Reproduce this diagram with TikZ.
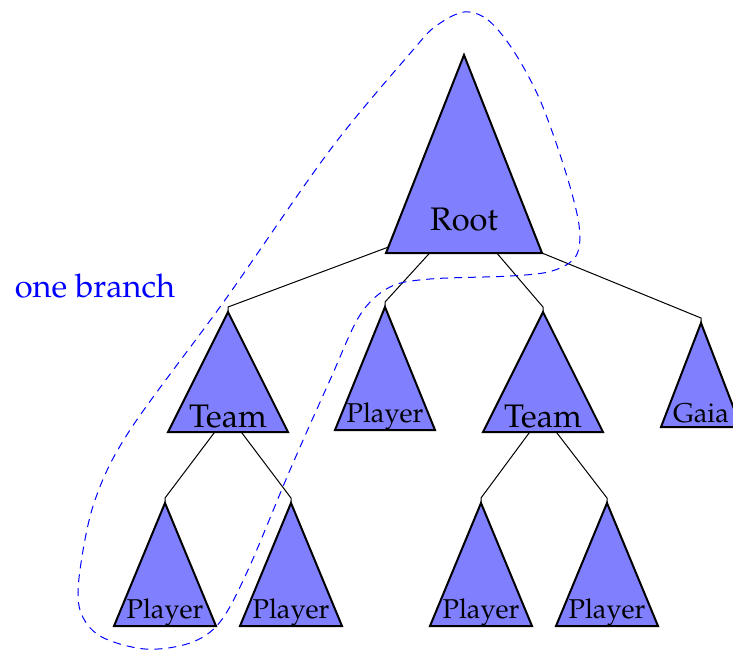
\documentclass[tikz,border=0pt]{standalone}
\usepackage[T1]{fontenc}
\usepackage{mathpazo}
\usetikzlibrary{calc}

% triangle: name, apex x, apex y, half width, height
\newcommand\trishape[5]{%
  \coordinate (#1-a) at (#2,#3);
  \coordinate (#1-l) at ({#2-#4},{#3+#5});
  \coordinate (#1-r) at ({#2+#4},{#3+#5});
  \draw[tri] (#1-a) -- (#1-l) -- (#1-r) -- cycle;
}

\begin{document}
\begin{tikzpicture}[x=0.5pt,y=-0.5pt,
  tri/.style={draw=black,fill=blue!50,line width=1pt,line join=miter},
  link/.style={draw=black,line width=0.5pt},
  big/.style={font=\fontsize{16.3}{18}\selectfont,inner sep=0pt,anchor=base},
  small/.style={font=\fontsize{13.6}{15}\selectfont,inner sep=0pt,anchor=base},
  branch/.style={draw=blue,line width=0.5pt,dash pattern=on 4pt off 3pt}]
\useasboundingbox (0,0) rectangle (733,650);

% triangles
\trishape{root}{464}{55}{78}{198}
\trishape{teamA}{228}{312}{60}{120}
\trishape{plM}{385}{307}{50}{123}
\trishape{teamB}{543}{312}{60}{120}
\trishape{gaia}{701}{323}{40}{104}
\trishape{plA}{165}{503}{51}{123}
\trishape{plB}{291}{503}{51}{123}
\trishape{plC}{481}{503}{51}{123}
\trishape{plD}{607}{503}{51}{123}

% labels
\node[big]   (rootT)  at (464,230) {Root};
\node[big]   (teamAT) at (228,427) {Team};
\node[small] (plMT)   at (385,422) {Player};
\node[big]   (teamBT) at (543,427) {Team};
\node[small] (gaiaT)  at (701,422) {Gaia};
\node[small] (plAT)   at (165,618) {Player};
\node[small] (plBT)   at (291,618) {Player};
\node[small] (plCT)   at (481,618) {Player};
\node[small] (plDT)   at (607,618) {Player};

% tree edges
\draw[link] ($(root-l)!0.03!(root-a)$) -- ([yshift=2.5pt]teamA-a) -- (teamA-a);
\draw[link] ($(root-l)!0.28!(root-r)$) -- ([yshift=2.5pt]plM-a) -- (plM-a);
\draw[link] ($(root-l)!0.71!(root-r)$) -- ([yshift=2.5pt]teamB-a) -- (teamB-a);
\draw[link] (root-r) -- ([yshift=2.5pt]gaia-a) -- (gaia-a);
\draw[link] ($(teamA-l)!0.39!(teamA-r)$) -- ([yshift=2.5pt]plA-a) -- (plA-a);
\draw[link] ($(teamA-l)!0.61!(teamA-r)$) -- ([yshift=2.5pt]plB-a) -- (plB-a);
\draw[link] ($(teamB-l)!0.39!(teamB-r)$) -- ([yshift=2.5pt]plC-a) -- (plC-a);
\draw[link] ($(teamB-l)!0.61!(teamB-r)$) -- ([yshift=2.5pt]plD-a) -- (plD-a);

% outline of one branch
\draw[branch] plot[smooth cycle,tension=0.55] coordinates {
  (464,12) (488,20) (513,50) (540,100) (565,170) (579,225) (576,256)
  (552,271) (510,276) (430,279) (390,287) (360,315) (330,380) (290,470)
  (248,570) (220,622) (190,643) (145,649) (100,636) (80,610) (80,570)
  (95,500) (130,430) (225,300) (330,150) (413,50) (436,26)};
\node[big,text=blue,anchor=base] (branchT) at (95,297) {one branch};
\end{tikzpicture}
\end{document}
